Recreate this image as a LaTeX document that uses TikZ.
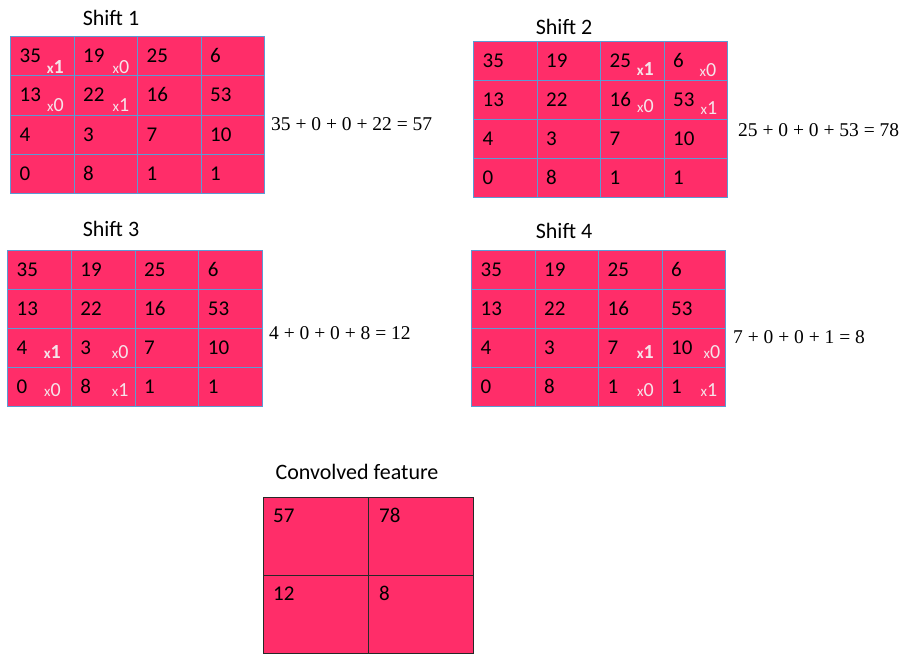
\documentclass[tikz,border=0pt]{standalone}
\usepackage{fontspec}
\setmainfont{Carlito}
\newfontfamily\eqfont{Liberation Serif}
\definecolor{cellpink}{RGB}{255,45,105}
\definecolor{gridblue}{RGB}{91,155,213}
\definecolor{labwhite}{RGB}{245,228,234}
\definecolor{darkline}{RGB}{40,40,40}
\tikzset{
  cell/.style={draw=gridblue, line width=1.2pt, fill=cellpink, inner sep=0pt, anchor=north west},
  ccell/.style={draw=darkline, line width=1pt, fill=cellpink, inner sep=0pt, anchor=north west, minimum width=105pt, minimum height=78pt},
  num/.style={anchor=base west, inner sep=0pt, font=\fontsize{21}{21}\selectfont},
  lab/.style={anchor=base east, inner sep=0pt, text=labwhite},
  title/.style={anchor=base, inner sep=0pt, font=\fontsize{22}{22}\selectfont},
  eq/.style={anchor=base west, inner sep=0pt, font=\eqfont\fontsize{19.5}{20}\selectfont},
}
\newcommand{\kxbold}{\bfseries{\fontsize{15}{15}\selectfont x}{\fontsize{20}{20}\selectfont 1}}
\newcommand{\kxone}{{\fontsize{15}{15}\selectfont x}{\fontsize{20}{20}\selectfont 1}}
\newcommand{\kxzero}{{\fontsize{15}{15}\selectfont x}{\fontsize{20}{20}\selectfont 0}}
\newcommand{\drawshiftgrid}[5]{%
  \foreach \rowvals [count=\r] in {{35,19,25,6},{13,22,16,53},{4,3,7,10},{0,8,1,1}} {
    \foreach \v [count=\c] in \rowvals {
      \node[cell, minimum width=#4pt, minimum height=#5pt] (#1-\r-\c) at ({#2+(\c-1)*#4},{#3+(\r-1)*#5}) {};
      \node[num] (#1-\r-\c-v) at ([xshift=9.5pt,yshift=-26.5pt]#1-\r-\c.north west) {\v};
    }
  }%
}
\newcommand{\klab}[5]{% name, cell, xoff, yoff, content
  \node[lab] (#1) at ([xshift=#3pt,yshift=#4pt]#2.south west) {#5};%
}
\begin{document}
\begin{tikzpicture}[x=1pt,y=-1pt]
\useasboundingbox (0,0) rectangle (904,653);

% Shift 1
\node[title] (t1) at (111,25) {Shift 1};
\drawshiftgrid{sa}{10}{36}{63.5}{39.25}
\klab{sa-k11}{sa-1-1}{54}{3.3}{\kxbold}
\klab{sa-k12}{sa-1-2}{56}{3.3}{\kxzero}
\klab{sa-k21}{sa-2-1}{54}{4}{\kxzero}
\klab{sa-k22}{sa-2-2}{56}{4}{\kxone}
\node[eq] (e1) at (271,130) {35 + 0 + 0 + 22 = 57};

% Shift 2
\node[title] (t2) at (564,34) {Shift 2};
\drawshiftgrid{sb}{473}{41}{63.5}{39}
\klab{sb-k13}{sb-1-3}{54}{5.7}{\kxbold}
\klab{sb-k14}{sb-1-4}{53}{5}{\kxzero}
\klab{sb-k23}{sb-2-3}{54}{7.3}{\kxzero}
\klab{sb-k24}{sb-2-4}{54}{5.7}{\kxone}
\node[eq] (e2) at (738,136) {25 + 0 + 0 + 53 = 78};

% Shift 3
\node[title] (t3) at (111,236.7) {Shift 3};
\drawshiftgrid{sc}{7}{250}{63.75}{39}
\klab{sc-k31}{sc-3-1}{54}{9.3}{\kxbold}
\klab{sc-k32}{sc-3-2}{58}{9.3}{\kxzero}
\klab{sc-k41}{sc-4-1}{54}{11}{\kxzero}
\klab{sc-k42}{sc-4-2}{58}{11}{\kxone}
\node[eq] (e3) at (269,339.3) {4 + 0 + 0 + 8 = 12};

% Shift 4
\node[title] (t4) at (564,238.5) {Shift 4};
\drawshiftgrid{sd}{471}{250}{63.5}{39}
\klab{sd-k33}{sd-3-3}{56}{9.3}{\kxbold}
\klab{sd-k34}{sd-3-4}{59}{9.3}{\kxzero}
\klab{sd-k43}{sd-4-3}{56}{11}{\kxzero}
\klab{sd-k44}{sd-4-4}{56}{11}{\kxone}
\node[eq] (e4) at (733,343.3) {7 + 0 + 0 + 1 = 8};

% Convolved feature
\node[title] (t5) at (357,479) {Convolved feature};
\node[ccell] (cf-1-1) at (263,497) {};
\node[ccell] (cf-1-2) at (368,497) {};
\node[ccell] (cf-2-1) at (263,575) {};
\node[ccell] (cf-2-2) at (368,575) {};
\node[num] (cf-1-1-v) at ([xshift=10pt,yshift=-25.7pt]cf-1-1.north west) {57};
\node[num] (cf-1-2-v) at ([xshift=11pt,yshift=-25.7pt]cf-1-2.north west) {78};
\node[num] (cf-2-1-v) at ([xshift=10pt,yshift=-25.7pt]cf-2-1.north west) {12};
\node[num] (cf-2-2-v) at ([xshift=11pt,yshift=-25.7pt]cf-2-2.north west) {8};
\end{tikzpicture}
\end{document}
